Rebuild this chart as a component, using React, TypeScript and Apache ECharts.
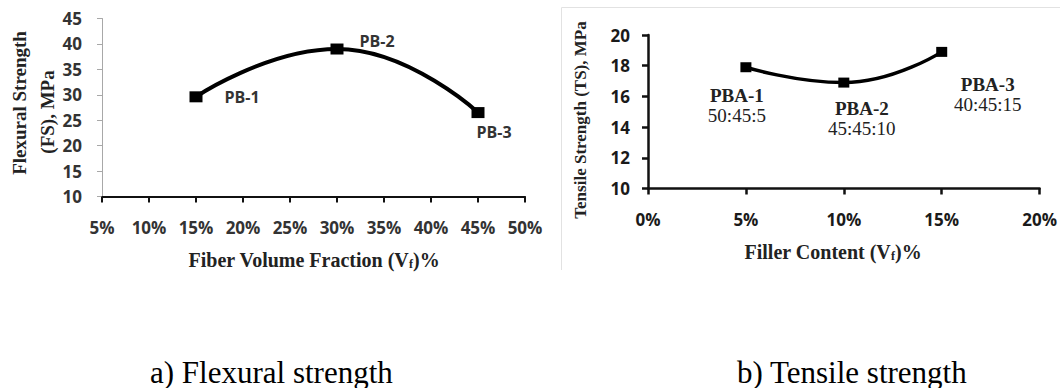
import React, { useEffect, useRef } from "react";
import * as echarts from "echarts";

// ---- data ----
const flexFraction = [15, 30, 45]; // fiber volume fraction, %
const flexStrength = [29.6, 39.0, 26.5]; // MPa
const flexNames = ["PB-1", "PB-2", "PB-3"];

const fillerContent = [5, 10, 15]; // filler content, %
const tensileStrength = [17.9, 16.9, 18.9]; // MPa
const tensileNames = ["PBA-1", "PBA-2", "PBA-3"];
const tensileRatios = ["50:45:5", "45:45:10", "40:45:15"];

const flexYTicks = { min: 10, max: 45, interval: 5 };
const flexXTicks = { min: 5, max: 50, interval: 5 };
const tensYTicks = { min: 10, max: 20, interval: 2 };
const tensXTicks = { min: 0, max: 20, interval: 5 };

const captions = ["a) Flexural strength", "b) Tensile strength"];

// ---- label placement (styling only) ----
const flexLabelOffsets = [
  [46, 0],
  [40, -8],
  [16, 19],
];
const tensLabelOffsets = [
  [-9, 38],
  [18, 36],
  [46, 43],
];

const SERIF = "'Liberation Serif', 'DejaVu Serif', serif";
const SANS = "'Open Sans', Lato, sans-serif";

export default function App() {
  const ref = useRef<HTMLDivElement>(null);

  useEffect(() => {
    if (!ref.current) return;
    const chart = echarts.init(ref.current, undefined, { renderer: "svg" });

    const flexData = flexFraction.map((x, i) => ({
      value: [x, flexStrength[i]],
      label: {
        show: true,
        position: "inside",
        offset: flexLabelOffsets[i],
        formatter: flexNames[i],
        fontFamily: SANS,
        fontWeight: "bold",
        fontSize: 16,
        color: "#333",
      },
    }));

    const tensData = fillerContent.map((x, i) => ({
      value: [x, tensileStrength[i]],
      label: {
        show: true,
        position: "inside",
        offset: tensLabelOffsets[i],
        formatter: `{b|${tensileNames[i]}}\n{n|${tensileRatios[i]}}`,
        rich: {
          b: { fontFamily: SERIF, fontWeight: "bold", fontSize: 19, color: "#222", lineHeight: 20, align: "center" },
          n: { fontFamily: SERIF, fontWeight: "normal", fontSize: 19, color: "#222", lineHeight: 20, align: "center" },
        },
      },
    }));

    const tickLabel = (color: string) => ({
      fontFamily: SANS,
      fontWeight: "bold" as const,
      fontSize: 17,
      color,
    });

    chart.setOption({
      animation: false,
      backgroundColor: "#fff",
      grid: [
        { left: 102, right: 535, top: 18.5, bottom: 191.5, containLabel: false },
        { left: 648, right: 19, top: 35, bottom: 199.5, containLabel: false },
      ],
      xAxis: [
        {
          gridIndex: 0,
          type: "value",
          ...flexXTicks,
          axisLine: { show: true, onZero: false, lineStyle: { color: "#111", width: 2 } },
          axisTick: { show: true, length: 6, lineStyle: { color: "#111", width: 2 } },
          splitLine: { show: false },
          axisLabel: { ...tickLabel("#333"), margin: 22, formatter: (v: number) => `${v}%` },
        },
        {
          gridIndex: 1,
          type: "value",
          ...tensXTicks,
          axisLine: { show: true, onZero: false, lineStyle: { color: "#111", width: 2.5 } },
          axisTick: { show: true, length: 6, lineStyle: { color: "#111", width: 2.5 } },
          splitLine: { show: false },
          axisLabel: { ...tickLabel("#1a1a1a"), margin: 22, formatter: (v: number) => `${v}%` },
        },
      ],
      yAxis: [
        {
          gridIndex: 0,
          type: "value",
          ...flexYTicks,
          axisLine: { show: true, onZero: false, lineStyle: { color: "#a8a8a8", width: 1 } },
          axisTick: { show: true, length: 5, lineStyle: { color: "#a8a8a8", width: 1 } },
          splitLine: { show: false },
          axisLabel: { ...tickLabel("#333"), margin: 20 },
        },
        {
          gridIndex: 1,
          type: "value",
          ...tensYTicks,
          axisLine: { show: true, onZero: false, lineStyle: { color: "#111", width: 2.5 } },
          axisTick: { show: true, length: 6, lineStyle: { color: "#111", width: 2.5 } },
          splitLine: { show: false },
          axisLabel: { ...tickLabel("#1a1a1a"), margin: 18 },
        },
      ],
      series: [
        {
          type: "line",
          xAxisIndex: 0,
          yAxisIndex: 0,
          smooth: 0.5,
          data: flexData,
          symbol: "rect",
          symbolSize: [13, 11],
          itemStyle: { color: "#000" },
          lineStyle: { color: "#000", width: 4 },
        },
        {
          type: "line",
          xAxisIndex: 1,
          yAxisIndex: 1,
          smooth: 0.5,
          data: tensData,
          symbol: "rect",
          symbolSize: [11, 10],
          itemStyle: { color: "#000" },
          lineStyle: { color: "#000", width: 3.5 },
        },
      ],
      graphic: [
        // right panel frame
        { type: "line", shape: { x1: 561.5, y1: 7.5, x2: 1060, y2: 7.5 }, style: { stroke: "#e2e2e2", lineWidth: 1 } },
        { type: "line", shape: { x1: 561.5, y1: 7.5, x2: 561.5, y2: 270 }, style: { stroke: "#e2e2e2", lineWidth: 1 } },
        // left y title
        {
          type: "text",
          x: 19,
          y: 103,
          rotation: Math.PI / 2,
          style: { text: "Flexural Strength", fontFamily: SERIF, fontWeight: "bold", fontSize: 19, fill: "#222", align: "center", verticalAlign: "middle" },
        },
        {
          type: "text",
          x: 47,
          y: 112,
          rotation: Math.PI / 2,
          style: { text: "(FS), MPa", fontFamily: SERIF, fontWeight: "bold", fontSize: 19, fill: "#222", align: "center", verticalAlign: "middle" },
        },
        // left x title
        {
          type: "text",
          x: 314,
          y: 260,
          style: {
            text: "{a|Fiber Volume Fraction (V}{s|f}{a|)%}",
            align: "center",
            verticalAlign: "middle",
            rich: {
              a: { fontFamily: SERIF, fontWeight: "bold", fontSize: 20, fill: "#222" },
              s: { fontFamily: SERIF, fontWeight: "bold", fontSize: 12, fill: "#222", padding: [8, 0, 0, 0] },
            },
          },
        },
        // right y title
        {
          type: "text",
          x: 580,
          y: 120,
          rotation: Math.PI / 2,
          style: { text: "Tensile Strength (TS), MPa", fontFamily: SERIF, fontWeight: "bold", fontSize: 17, fill: "#222", align: "center", verticalAlign: "middle" },
        },
        // right x title
        {
          type: "text",
          x: 833,
          y: 252,
          style: {
            text: "{a|Filler Content (V}{s|f}{a|)%}",
            align: "center",
            verticalAlign: "middle",
            rich: {
              a: { fontFamily: SERIF, fontWeight: "bold", fontSize: 20, fill: "#222" },
              s: { fontFamily: SERIF, fontWeight: "bold", fontSize: 12, fill: "#222", padding: [8, 0, 0, 0] },
            },
          },
        },
        // captions
        {
          type: "text",
          x: 150,
          y: 372,
          style: { text: captions[0], fontFamily: SERIF, fontSize: 31, fill: "#000", align: "left", verticalAlign: "middle" },
        },
        {
          type: "text",
          x: 737,
          y: 372,
          style: { text: captions[1], fontFamily: SERIF, fontSize: 31, fill: "#000", align: "left", verticalAlign: "middle" },
        },
      ],
    });

    return () => chart.dispose();
  }, []);

  return (
    <div
      ref={ref}
      style={{ position: "fixed", left: 0, top: 0, width: 1060, height: 388, background: "#fff" }}
    />
  );
}
